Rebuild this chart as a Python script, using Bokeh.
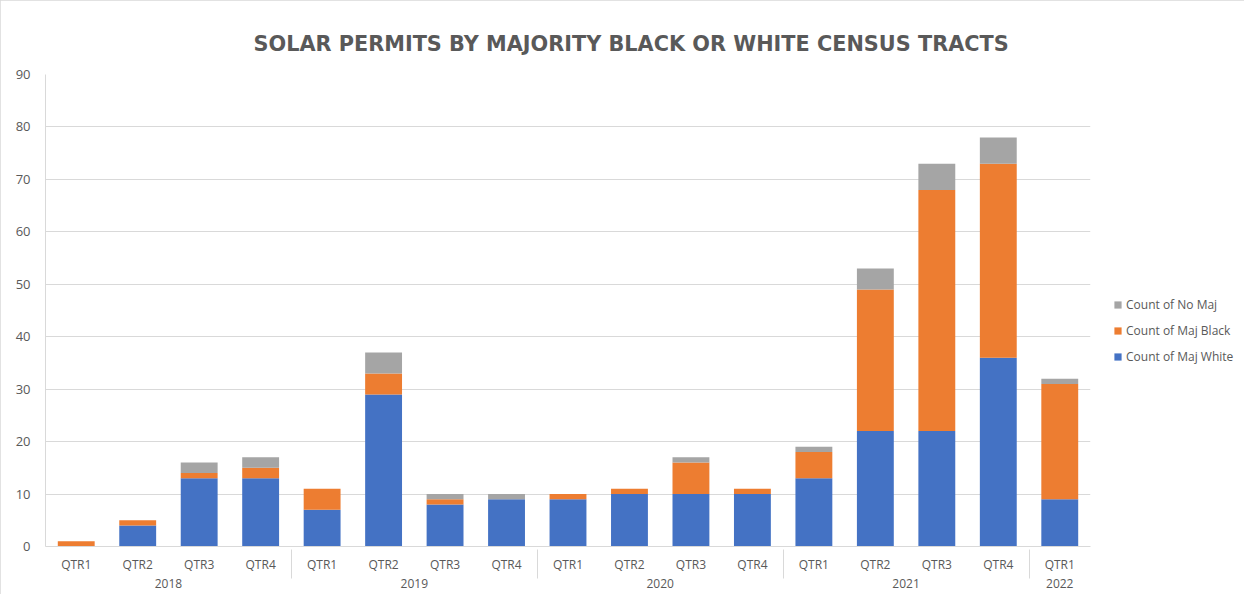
from bokeh.plotting import figure
from bokeh.models import FactorRange, Range1d, Legend, LegendItem, Title
from bokeh.embed import file_html
from bokeh.resources import INLINE

years = ["2018"] * 4 + ["2019"] * 4 + ["2020"] * 4 + ["2021"] * 4 + ["2022"]
quarters = ["QTR1", "QTR2", "QTR3", "QTR4"] * 4 + ["QTR1"]
maj_white = [0, 4, 13, 13, 7, 29, 8, 9, 9, 10, 10, 10, 13, 22, 22, 36, 9]
maj_black = [1, 1, 1, 2, 4, 4, 1, 0, 1, 1, 6, 1, 5, 27, 46, 37, 22]
no_maj = [0, 0, 2, 2, 0, 4, 1, 1, 0, 0, 1, 0, 1, 4, 5, 5, 1]
series_names = ["Count of Maj White", "Count of Maj Black", "Count of No Maj"]
series_colors = ["#4472C4", "#ED7D31", "#A5A5A5"]
y_ticks = list(range(0, 91, 10))

factors = list(zip(years, quarters))
data = dict(x=factors, white=maj_white, black=maj_black, nomaj=no_maj)

p = figure(
    frame_width=1045, frame_height=472,
    x_range=FactorRange(*factors, group_padding=0, factor_padding=0, range_padding=0),
    y_range=Range1d(0, 90),
    output_backend="svg", toolbar_location=None,
    min_border_left=45, min_border_right=10, min_border_top=74, min_border_bottom=48,
)
p.outline_line_color = None
p.styles = {"outline": "1px solid #d9d9d9", "outline-offset": "-1px"}

renderers = p.vbar_stack(["white", "black", "nomaj"], x="x", width=0.6,
                         color=series_colors, source=data, line_color=None)

# title
p.title = Title(text="SOLAR PERMITS BY MAJORITY BLACK OR WHITE CENSUS TRACTS",
                align="left", offset=208, text_font="DejaVu Sans",
                text_font_size="20.8px", text_font_style="bold",
                text_color="#595959", standoff=38)

# axes
p.xaxis.axis_line_color = "#d9d9d9"
p.xaxis.major_tick_line_color = None
p.xaxis.minor_tick_line_color = None
p.xaxis.major_label_text_font = "Open Sans"
p.xaxis.major_label_text_font_size = "12px"
p.xaxis.major_label_text_color = "#595959"
p.xaxis.group_text_font = "Open Sans"
p.xaxis.group_text_font_size = "12px"
p.xaxis.group_text_font_style = "normal"
p.xaxis.group_text_color = "#595959"
p.xaxis.separator_line_color = "#d9d9d9"
p.xaxis.separator_line_width = 1
p.xaxis.major_label_standoff = 3

p.yaxis.ticker = y_ticks
p.yaxis.axis_line_color = "#d9d9d9"
p.yaxis.major_tick_line_color = None
p.yaxis.minor_tick_line_color = None
p.yaxis.major_label_text_font = "Open Sans"
p.yaxis.major_label_text_font_size = "13px"
p.yaxis.major_label_text_color = "#595959"
p.yaxis.major_label_standoff = 9

p.xgrid.grid_line_color = None
p.ygrid.grid_line_color = "#d9d9d9"
p.ygrid.ticker = y_ticks

items = [LegendItem(label=series_names[i], renderers=[renderers[i]]) for i in (2, 1, 0)]
legend = Legend(items=items, location=(23, 180), border_line_color=None,
                background_fill_alpha=0, padding=0, margin=0,
                glyph_width=9, glyph_height=9, label_height=20, spacing=6,
                label_text_font="Open Sans", label_text_font_size="12px",
                label_text_color="#595959", label_standoff=4)
p.add_layout(legend, "right")

open("out.html", "w").write(file_html(p, INLINE))
